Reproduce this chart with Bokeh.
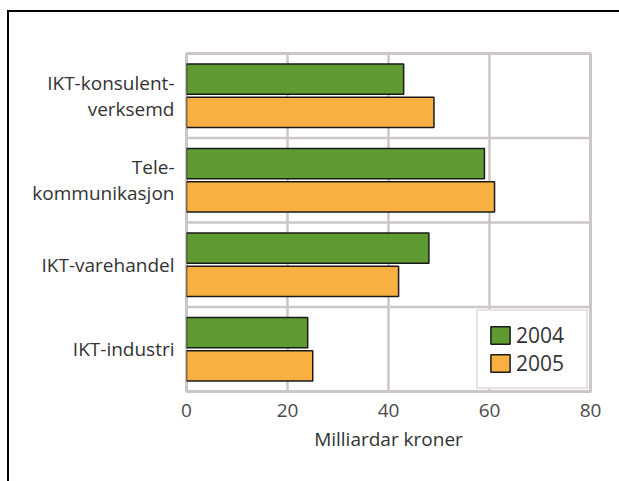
from bokeh.plotting import figure
from bokeh.models import ColumnDataSource, Span, Legend, LegendItem, FixedTicker
from bokeh.transform import dodge
from bokeh.embed import file_html
from bokeh.resources import INLINE

# data (bottom to top)
categories = ["IKT-industri", "IKT-varehandel", "Tele-\nkommunikasjon", "IKT-konsulent-\nverksemd"]
values_2004 = [24, 48, 59, 43]
values_2005 = [25, 42, 61, 49]
years = ["2004", "2005"]
x_ticks = [0, 20, 40, 60, 80]

GREEN = "#5f9a33"
ORANGE = "#f9b043"
GRID = "#cdc6c6"
FONT = "Open Sans"

src = ColumnDataSource(dict(cat=categories, v2004=values_2004, v2005=values_2005))

p = figure(y_range=categories, x_range=(0, 80), width=612, height=471,
           output_backend="svg", toolbar_location=None,
           min_border_left=177, min_border_top=41, min_border_right=31, min_border_bottom=92)

r1 = p.hbar(y=dodge("cat", 0.197, range=p.y_range), right="v2004", height=0.36, source=src,
            fill_color=GREEN, line_color="#1a1a1a", line_width=1.5)
r2 = p.hbar(y=dodge("cat", -0.197, range=p.y_range), right="v2005", height=0.36, source=src,
            fill_color=ORANGE, line_color="#1a1a1a", line_width=1.5)

# category separators
for i in range(1, len(categories)):
    p.add_layout(Span(location=i, dimension="width", line_color=GRID, line_width=2.5, level="underlay"))

p.ygrid.visible = False
p.xgrid.ticker = FixedTicker(ticks=x_ticks)
p.xgrid.grid_line_color = GRID
p.xgrid.grid_line_width = 2.5
p.xgrid.level = "underlay"

p.outline_line_color = GRID
p.outline_line_width = 3

p.xaxis.ticker = FixedTicker(ticks=x_ticks)
p.xaxis.axis_line_color = None
p.xaxis.major_tick_line_color = None
p.xaxis.minor_tick_line_color = None
p.xaxis.major_label_text_font = FONT
p.xaxis.major_label_text_font_size = "19px"
p.xaxis.major_label_text_color = "#4a4a4a"
p.xaxis.major_label_standoff = 6
p.xaxis.axis_label = "Milliardar kroner"
p.xaxis.axis_label_text_font = FONT
p.xaxis.axis_label_text_font_size = "19px"
p.xaxis.axis_label_text_font_style = "normal"
p.xaxis.axis_label_text_color = "#333333"
p.xaxis.axis_label_standoff = 6

p.yaxis.axis_line_color = None
p.yaxis.major_tick_line_color = None
p.yaxis.minor_tick_line_color = None
p.yaxis.major_label_text_font = FONT
p.yaxis.major_label_text_font_size = "19px"
p.yaxis.major_label_text_color = "#333333"
p.yaxis.major_label_text_line_height = 1.0
p.yaxis.major_label_standoff = 6

legend = Legend(items=[LegendItem(label=years[0], renderers=[r1]),
                       LegendItem(label=years[1], renderers=[r2])],
                location="bottom_right", margin=2, padding=10, spacing=0,
                glyph_width=24, glyph_height=22, label_standoff=4, label_width=60,
                label_text_font=FONT, label_text_font_size="21px", label_text_color="#333333",
                border_line_color=GRID, border_line_width=2.5, background_fill_alpha=1)
p.add_layout(legend)

p.styles = {"border-top": "2px solid black", "border-left": "2px solid black",
            "margin-left": "7px", "margin-top": "10px"}

open("out.html", "w").write(file_html(p, INLINE))
